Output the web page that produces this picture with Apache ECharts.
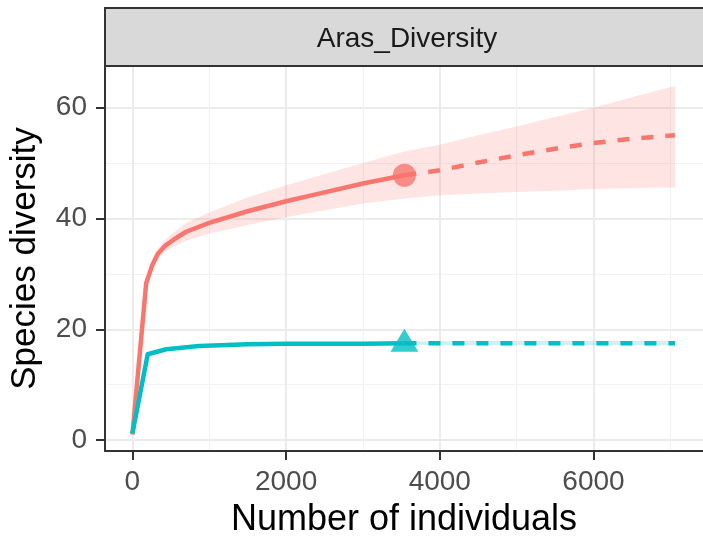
<!DOCTYPE html>
<html>
<head>
<meta charset="utf-8">
<script src="https://cdn.jsdelivr.net/npm/echarts@6/dist/echarts.min.js"></script>
<style>
  html, body { margin: 0; padding: 0; background: #ffffff; }
  #chart { width: 703px; height: 543px; }
</style>
</head>
<body>
<div id="chart"></div>
<script>
// Rarefaction / extrapolation curves for the Aras_Diversity assemblage
const facetTitle = 'Aras_Diversity';
const xTitle = 'Number of individuals';
const yTitle = 'Species diversity';
const xTicks = [0, 2000, 4000, 6000];
const yTicks = [0, 20, 40, 60];

// reference sample size and observed diversity
const refSize = 3540;
const redObs = 47.8;
const cyanObs = 17.5;

// red (q = 0) rarefied part
const redRareX = [1, 180, 260, 330, 420, 550, 700, 1000, 1500, 2000, 2500, 3000, 3540];
const redRareY = [1, 28.3, 31.6, 33.6, 35.0, 36.3, 37.6, 39.2, 41.3, 43.1, 44.7, 46.3, 47.8];
// red extrapolated part
const redExtX = [3540, 4000, 4500, 5000, 5500, 6000, 6500, 7060];
const redExtY = [47.8, 48.7, 50.1, 51.4, 52.6, 53.6, 54.4, 55.0];
// red 95% interval
const redBandX = [1, 180, 260, 330, 420, 550, 700, 1000, 1500, 2000, 2500, 3000, 3540, 4000, 4500, 5000, 5500, 6000, 6500, 7060];
const redBandLo = [1, 27.8, 30.9, 32.7, 33.9, 35.0, 36.0, 37.3, 38.8, 40.2, 41.5, 42.7, 43.6, 44.2, 44.5, 44.8, 45.0, 45.3, 45.5, 45.6];
const redBandHi = [1, 28.8, 32.3, 34.5, 36.1, 37.6, 39.2, 41.1, 43.8, 46.0, 48.0, 50.0, 52.1, 53.3, 55.0, 56.6, 58.3, 60.0, 61.9, 63.9];

// cyan rarefied part
const cyanRareX = [1, 200, 440, 870, 1500, 2000, 2500, 3000, 3540];
const cyanRareY = [1.2, 15.5, 16.4, 17.0, 17.3, 17.4, 17.4, 17.4, 17.5];
// cyan extrapolated part
const cyanExtX = [3540, 4500, 5500, 6500, 7060];
const cyanExtY = [17.5, 17.5, 17.5, 17.5, 17.5];
// cyan 95% interval
const cyanBandX = [1, 200, 440, 870, 1500, 2000, 3000, 3540, 4500, 5500, 6500, 7060];
const cyanBandLo = [1.2, 15.3, 16.2, 16.8, 17.1, 17.2, 17.2, 17.2, 17.1, 17.1, 17.1, 17.1];
const cyanBandHi = [1.2, 15.7, 16.6, 17.2, 17.5, 17.6, 17.6, 17.8, 17.9, 17.9, 17.9, 17.9];

const RED = '#F8766D';
const CYAN = '#00BFC4';
const FONT = "'Liberation Sans', Arial, Helvetica, sans-serif";
const BORDER = '#333333';

const pairs = (xs, ys) => xs.map((x, i) => [x, ys[i]]);

function band(xs, lo, hi, fill) {
  return {
    type: 'custom',
    silent: true,
    z: 1,
    clip: true,
    data: xs.map((x, i) => [x, lo[i], hi[i]]),
    encode: { x: 0, y: [1, 2] },
    renderItem: (params, api) => {
      if (params.dataIndex !== 0) return null;
      const pts = [];
      for (let i = 0; i < xs.length; i++) pts.push(api.coord([xs[i], hi[i]]));
      for (let i = xs.length - 1; i >= 0; i--) pts.push(api.coord([xs[i], lo[i]]));
      return { type: 'polygon', shape: { points: pts }, style: { fill: fill } };
    }
  };
}

function curve(xs, ys, color, dashed) {
  return {
    type: 'line',
    data: pairs(xs, ys),
    showSymbol: false,
    silent: true,
    z: 3,
    lineStyle: { color: color, width: 4.5, type: dashed ? [12, 12] : 'solid', cap: 'butt', join: 'round' }
  };
}

const plainNumber = v => String(v);

const chart = echarts.init(document.getElementById('chart'), null, { renderer: 'canvas' });

const option = {
  backgroundColor: '#ffffff',
  animation: false,
  textStyle: { fontFamily: FONT },
  grid: { left: 105, top: 66, width: 604, height: 388, containLabel: false },
  xAxis: {
    type: 'value',
    min: -356,
    max: 7425,
    splitNumber: 4,
    name: xTitle,
    nameLocation: 'middle',
    nameGap: 51,
    nameTextStyle: { fontSize: 36, color: '#000000', fontFamily: FONT },
    axisLine: { show: true, onZero: false, lineStyle: { color: BORDER, width: 2 } },
    axisTick: { show: true, length: 9, customValues: xTicks, lineStyle: { color: BORDER, width: 2 } },
    axisLabel: { customValues: xTicks, formatter: plainNumber, margin: 17, fontSize: 28, color: '#4d4d4d', fontFamily: FONT },
    splitLine: { show: true, lineStyle: { color: '#ebebeb', width: 2 } },
    minorTick: { show: false, splitNumber: 2 },
    minorSplitLine: { show: true, lineStyle: { color: '#f2f2f2', width: 1.2 } }
  },
  yAxis: {
    type: 'value',
    min: -1.97,
    max: 67.52,
    splitNumber: 3,
    name: yTitle,
    nameLocation: 'middle',
    nameGap: 62,
    nameRotate: 90,
    nameTextStyle: { fontSize: 35, color: '#000000', fontFamily: FONT },
    axisLine: { show: true, onZero: false, lineStyle: { color: BORDER, width: 2 } },
    axisTick: { show: true, length: 9, customValues: yTicks, lineStyle: { color: BORDER, width: 2 } },
    axisLabel: { customValues: yTicks, formatter: plainNumber, margin: 18, fontSize: 28, color: '#4d4d4d', fontFamily: FONT },
    splitLine: { show: true, lineStyle: { color: '#ebebeb', width: 2 } },
    minorTick: { show: false, splitNumber: 2 },
    minorSplitLine: { show: true, lineStyle: { color: '#f2f2f2', width: 1.2 } }
  },
  graphic: [
    {
      type: 'rect',
      shape: { x: 105, y: 8, width: 620, height: 58 },
      style: { fill: '#d9d9d9', stroke: BORDER, lineWidth: 2 },
      z: 10
    },
    {
      type: 'text',
      x: 407,
      y: 39,
      style: {
        text: facetTitle,
        fontSize: 28,
        fontFamily: FONT,
        fill: '#1a1a1a',
        textAlign: 'center',
        textVerticalAlign: 'middle'
      },
      z: 11
    }
  ],
  series: [
    band(redBandX, redBandLo, redBandHi, 'rgba(248,118,109,0.2)'),
    band(cyanBandX, cyanBandLo, cyanBandHi, 'rgba(0,191,196,0.2)'),
    curve(redRareX, redRareY, RED, false),
    curve(redExtX, redExtY, RED, true),
    curve(cyanRareX, cyanRareY, CYAN, false),
    curve(cyanExtX, cyanExtY, CYAN, true),
    {
      type: 'scatter',
      data: [[refSize, redObs]],
      symbol: 'circle',
      symbolSize: 23,
      itemStyle: { color: RED },
      silent: true,
      z: 4
    },
    {
      type: 'scatter',
      data: [[refSize, cyanObs]],
      symbol: 'triangle',
      symbolSize: [28, 23],
      symbolOffset: [0, -3],
      itemStyle: { color: CYAN },
      silent: true,
      z: 4
    }
  ]
};

chart.setOption(option);
</script>
</body>
</html>
